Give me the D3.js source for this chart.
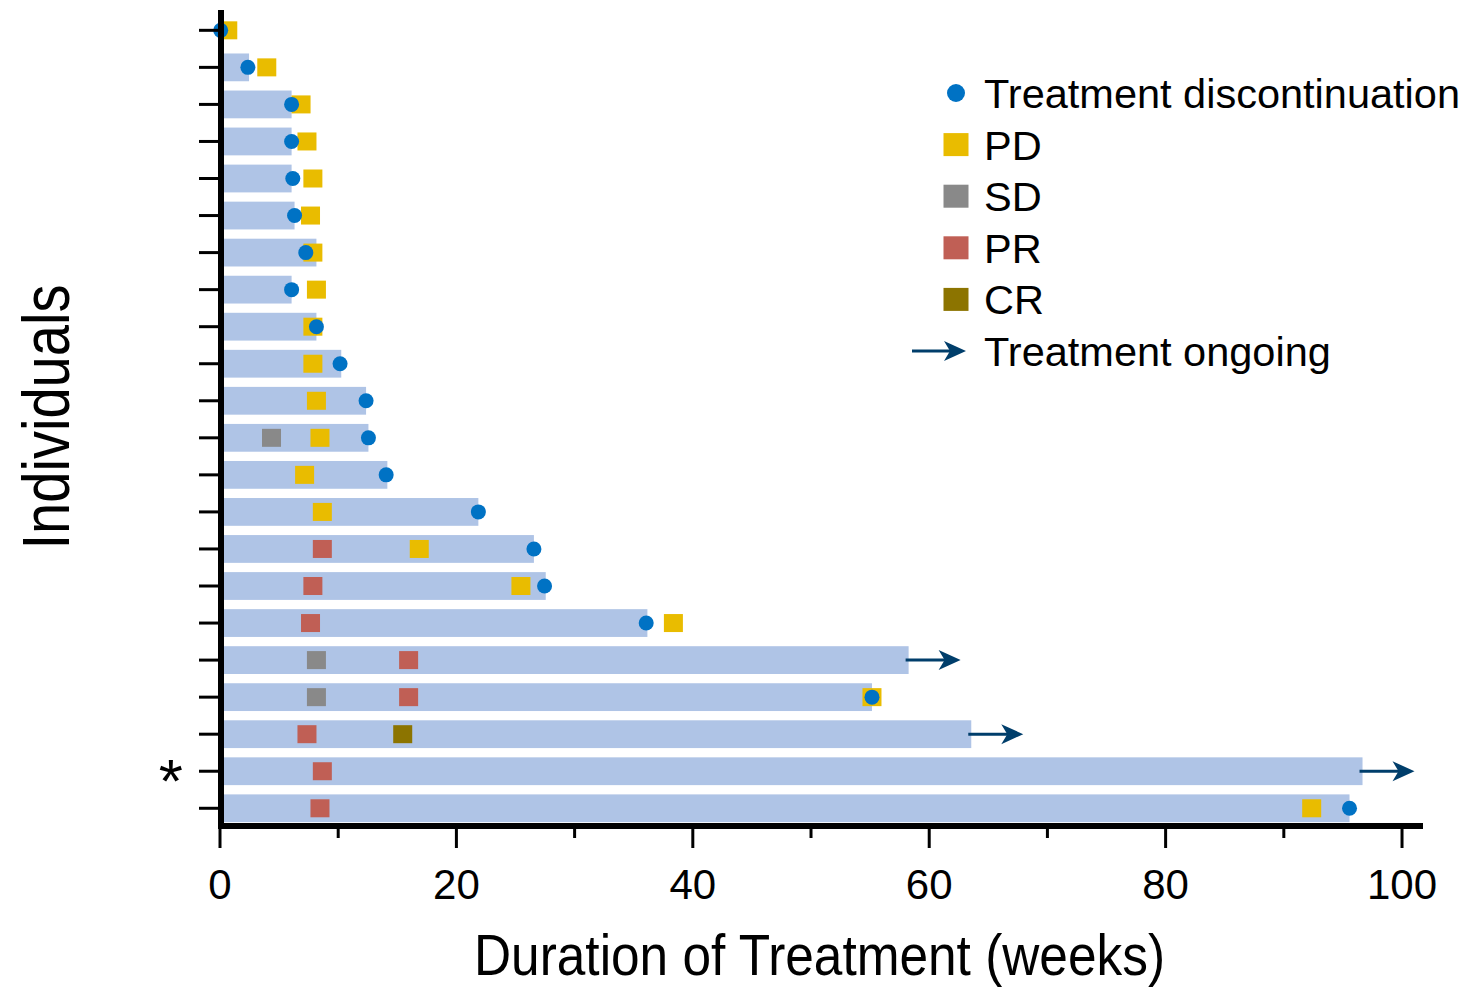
<!DOCTYPE html>
<html>
<head>
<meta charset="utf-8">
<script src="https://cdn.jsdelivr.net/npm/d3@7"></script>
<style>
  html, body { margin: 0; padding: 0; background: #fff; }
  svg { display: block; }
  text { font-family: "Liberation Sans", Arial, sans-serif; fill: #000; }
</style>
</head>
<body>
<svg id="chart" width="1465" height="987"></svg>
<script>
// ---- data (one entry per individual, top to bottom) ----
const rowLabels = ["", "", "", "", "", "", "", "", "", "", "", "", "", "", "", "", "", "", "", "", "*", ""];
const duration = [0, 2.5, 6.1, 6.1, 6.1, 6.35, 8.2, 6.1, 8.2, 10.3, 12.4, 12.6, 14.2, 21.9, 26.6, 27.6, 36.2, 58.3, 55.2, 63.6, 96.7, 95.6];
const discontinuation = [0.1, 2.4, 6.1, 6.1, 6.2, 6.35, 7.3, 6.1, 8.2, 10.2, 12.4, 12.6, 14.1, 21.9, 26.6, 27.5, 36.1, null, 55.2, null, null, 95.6];
const ongoing = [false, false, false, false, false, false, false, false, false, false, false, false, false, false, false, false, false, true, false, true, true, false];
const pdWeek = [0.7, 4.0, 6.9, 7.4, 7.9, 7.7, 7.9, 8.2, 7.9, 7.9, 8.2, 8.5, 7.2, 8.7, 16.9, 25.5, 38.4, null, 55.2, null, null, 92.4];
const sdWeek = [null, null, null, null, null, null, null, null, null, null, null, 4.4, null, null, null, null, null, 8.2, 8.2, null, null, null];
const prWeek = [null, null, null, null, null, null, null, null, null, null, null, null, null, null, 8.7, 7.9, 7.7, 16.0, 16.0, 7.4, 8.7, 8.5];
const crWeek = [null, null, null, null, null, null, null, null, null, null, null, null, null, null, null, null, null, null, null, 15.5, null, null];
const xTicks = [0, 10, 20, 30, 40, 50, 60, 70, 80, 90, 100];
const legendLabels = ["Treatment discontinuation", "PD", "SD", "PR", "CR", "Treatment ongoing"];
const legendKinds = ["dot", "PD", "SD", "PR", "CR", "arrow"];

// ---- styles ----
const colors = { bar: "#AFC4E6", dot: "#0072C4", PD: "#E9BC00", SD: "#898989", PR: "#C05F55", CR: "#8C7400", arrow: "#003E6B" };

const svg = d3.select("#chart");
svg.append("rect").attr("width", 1465).attr("height", 987).attr("fill", "#fff");

const x = d3.scaleLinear().domain([0, 101.8]).range([219.5, 1422.8]);
const y = d3.scaleBand().domain(d3.range(duration.length)).range([11.8, 826.8])
  .paddingInner(0.25).paddingOuter(0.125);
const cy = i => y(i) + y.bandwidth() / 2;

const rows = d3.range(duration.length);

// bars
svg.append("g").selectAll("rect").data(rows).join("rect")
  .attr("x", x(0))
  .attr("y", i => y(i))
  .attr("width", i => x(duration[i]) - x(0))
  .attr("height", y.bandwidth())
  .attr("fill", colors.bar);

// response squares
const sqW = 19, sqH = 18;
const squares = [];
[["SD", sdWeek], ["PR", prWeek], ["CR", crWeek], ["PD", pdWeek]].forEach(([k, arr]) => {
  arr.forEach((v, i) => { if (v !== null) squares.push({ k, v, i }); });
});
svg.append("g").selectAll("rect").data(squares).join("rect")
  .attr("x", d => x(d.v) - sqW / 2)
  .attr("y", d => cy(d.i) - sqH / 2)
  .attr("width", sqW).attr("height", sqH)
  .attr("fill", d => colors[d.k]);

// discontinuation dots
svg.append("g").selectAll("circle").data(rows.filter(i => discontinuation[i] !== null)).join("circle")
  .attr("cx", i => x(discontinuation[i]))
  .attr("cy", cy)
  .attr("r", 7.5)
  .attr("fill", colors.dot);

// ongoing arrows
function arrow(g, x0, tip, yy) {
  g.append("line").attr("x1", x0).attr("x2", tip - 12).attr("y1", yy).attr("y2", yy)
    .attr("stroke", colors.arrow).attr("stroke-width", 3);
  g.append("path")
    .attr("d", `M${tip},${yy} L${tip - 22},${yy - 10} L${tip - 16},${yy} L${tip - 22},${yy + 10} Z`)
    .attr("fill", colors.arrow);
}
const ag = svg.append("g");
rows.filter(i => ongoing[i]).forEach(i => {
  const xe = x(duration[i]);
  arrow(ag, xe - 3, xe + 52, cy(i));
});

// x axis
const xAxis = d3.axisBottom(x).tickValues(xTicks).tickSizeOuter(0)
  .tickFormat(d => d % 20 === 0 ? d : "");
const gx = svg.append("g").attr("transform", "translate(0,826)").call(xAxis);
gx.select(".domain").remove();
gx.selectAll(".tick line")
  .attr("y2", d => d % 20 === 0 ? 22 : 12)
  .attr("stroke", "#000").attr("stroke-width", 3);
gx.selectAll(".tick text")
  .attr("y", 73).attr("dy", 0)
  .style("font-size", "42px")
  .style("font-family", "'Liberation Sans', Arial, sans-serif")
  .attr("fill", "#000");
svg.append("line").attr("x1", 218).attr("x2", 1423).attr("y1", 826).attr("y2", 826)
  .attr("stroke", "#000").attr("stroke-width", 6);

// y axis
const yAxis = d3.axisLeft(y).tickSize(22).tickSizeOuter(0).tickFormat(i => rowLabels[i]);
const gy = svg.append("g").attr("transform", "translate(221,0)").call(yAxis);
gy.select(".domain").remove();
gy.selectAll(".tick line").attr("stroke", "#000").attr("stroke-width", 3);
gy.selectAll(".tick text")
  .attr("x", -38).attr("dy", "0.5em")
  .style("font-size", "62px")
  .style("font-family", "'Liberation Sans', Arial, sans-serif")
  .attr("fill", "#000");
svg.append("line").attr("x1", 221).attr("x2", 221).attr("y1", 10).attr("y2", 829)
  .attr("stroke", "#000").attr("stroke-width", 6);

// axis titles
svg.append("text")
  .attr("x", 819.5).attr("y", 975)
  .attr("text-anchor", "middle")
  .attr("textLength", 691).attr("lengthAdjust", "spacingAndGlyphs")
  .style("font-size", "58px")
  .text("Duration of Treatment (weeks)");
svg.append("text")
  .attr("transform", "translate(69,417) rotate(-90)")
  .attr("text-anchor", "middle")
  .attr("textLength", 265).attr("lengthAdjust", "spacingAndGlyphs")
  .style("font-size", "66px")
  .text("Individuals");

// legend
const lg = svg.append("g");
legendLabels.forEach((lab, i) => {
  const ly = 93 + i * 51.6;
  const k = legendKinds[i];
  if (k === "dot") {
    lg.append("circle").attr("cx", 956).attr("cy", ly).attr("r", 9).attr("fill", colors.dot);
  } else if (k === "arrow") {
    arrow(lg, 912, 966, ly);
  } else {
    lg.append("rect").attr("x", 956 - 12.5).attr("y", ly - 11.5).attr("width", 25).attr("height", 23)
      .attr("fill", colors[k]);
  }
  lg.append("text").attr("x", 984).attr("y", ly + 15)
    .style("font-size", "41.5px")
    .text(lab);
});
</script>
</body>
</html>
